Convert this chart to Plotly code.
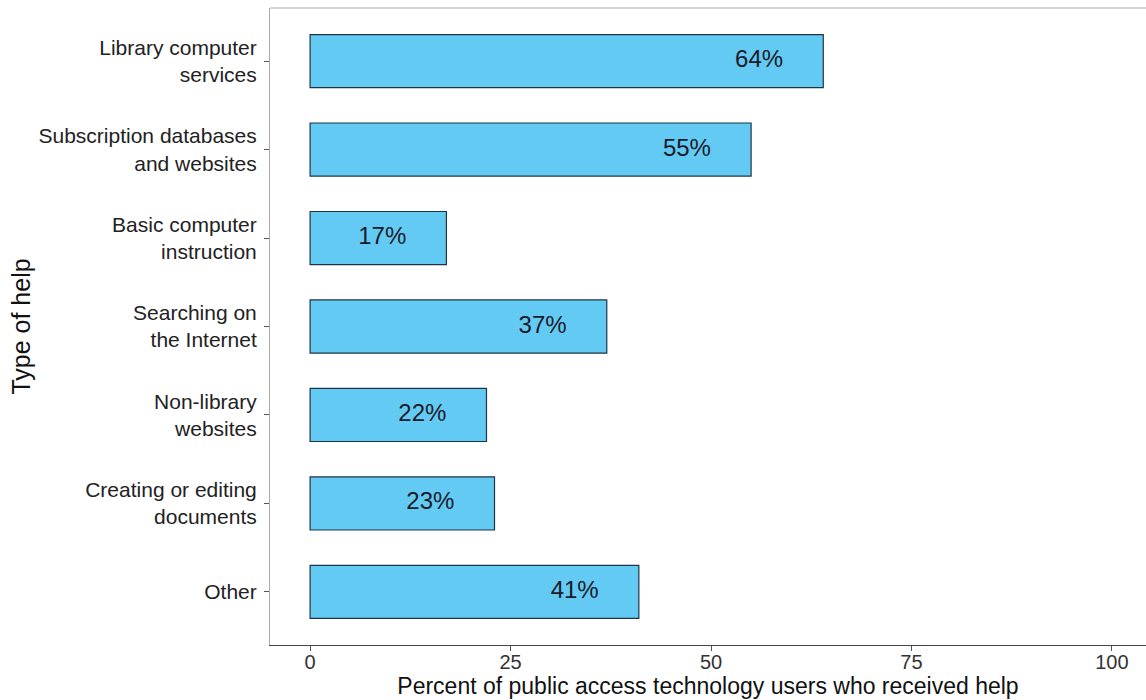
import plotly.graph_objects as go

categories = [
    "Library computer<br>services",
    "Subscription databases<br>and websites",
    "Basic computer<br>instruction",
    "Searching on<br>the Internet",
    "Non-library<br>websites",
    "Creating or editing<br>documents",
    "Other",
]
values = [64, 55, 17, 37, 22, 23, 41]
labels = [f"{v}%" for v in values]
x_ticks = [0, 25, 50, 75, 100]

FONT = "Liberation Sans, Arial, Helvetica, sans-serif"

fig = go.Figure()
fig.add_trace(go.Bar(
    x=values, y=categories, orientation="h", width=0.6,
    marker=dict(color="#63CBF3", line=dict(color="#1d3447", width=1.2)),
    hoverinfo="skip", showlegend=False,
))
fig.add_trace(go.Scatter(
    x=[v - 8 for v in values], y=categories, mode="text", text=labels,
    textfont=dict(family=FONT, size=24, color="#1a1a2a"),
    hoverinfo="skip", showlegend=False,
))

fig.update_layout(
    width=1146, height=700,
    margin=dict(l=270, r=0, t=8, b=55),
    paper_bgcolor="white", plot_bgcolor="white",
    font=dict(family=FONT, color="#222"),
    xaxis=dict(
        range=[-5, 104.25], tickvals=x_ticks, ticktext=[str(t) for t in x_ticks],
        showgrid=False, zeroline=False, showline=True, linecolor="#444", linewidth=1,
        ticks="outside", ticklen=5, tickcolor="#555", tickfont=dict(size=20, color="#333"),
        automargin=False, ticklabelstandoff=-6,
        title=dict(text="Percent of public access technology users who received help",
                   font=dict(size=23, color="#111"), standoff=0),
    ),
    yaxis=dict(
        categoryorder="array", categoryarray=categories,
        range=[6.6, -0.6], autorange=False,
        showgrid=False, zeroline=False, showline=True, linecolor="#aaa", linewidth=1,
        ticks="outside", ticklen=5, tickcolor="#555", tickfont=dict(size=21, color="#222"),
        automargin=False, ticklabelstandoff=3,
        title=dict(text="Type of help", font=dict(size=25, color="#111"), standoff=0),
    ),
    shapes=[dict(type="line", xref="paper", yref="paper", x0=0, x1=1, y0=1, y1=1,
                 line=dict(color="#aaa", width=1))],
)

fig.write_html("out.html", config={"displayModeBar": False},
               post_script="document.body.style.margin='0';")
